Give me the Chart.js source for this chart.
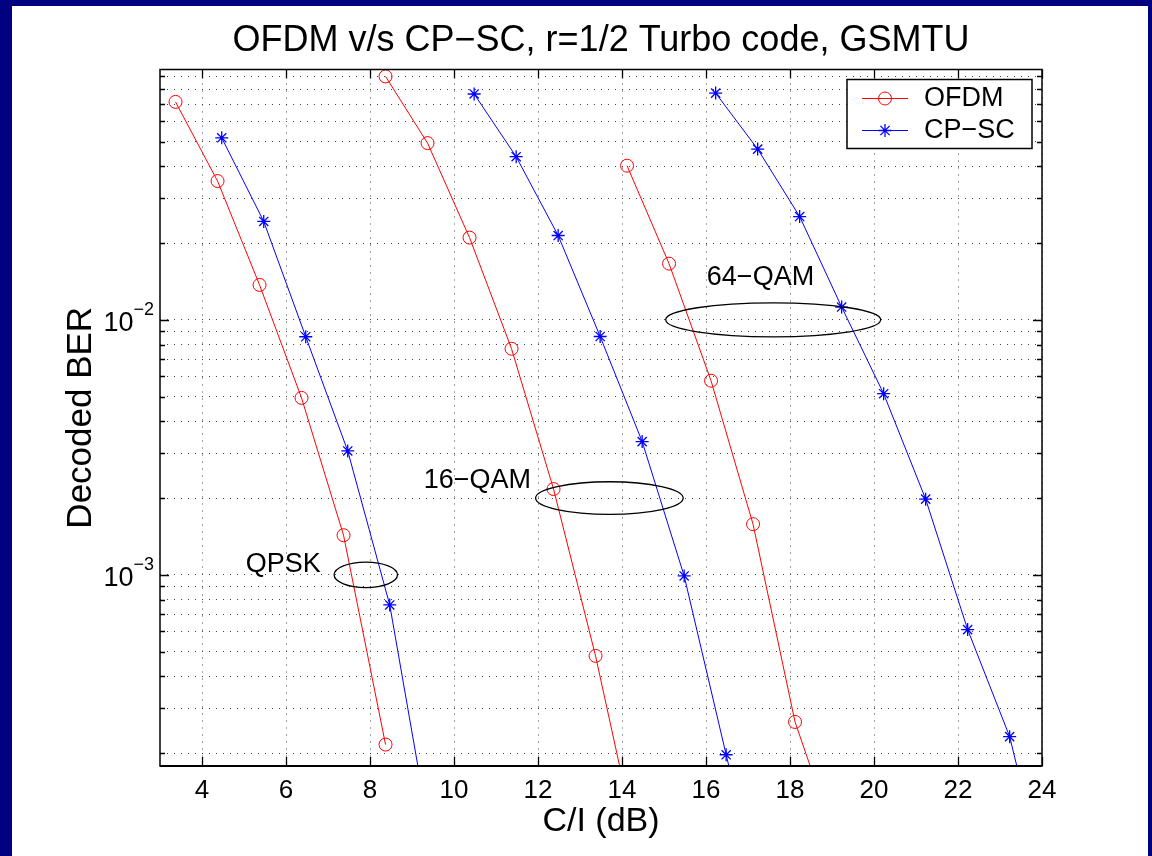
<!DOCTYPE html>
<html>
<head>
<meta charset="utf-8">
<title>OFDM v/s CP-SC</title>
<script src="https://cdn.jsdelivr.net/npm/chart.js@4.4.1/dist/chart.umd.min.js"></script>
<style>
    html, body { margin: 0; padding: 0; background: #000080; }
    #frame { position: absolute; left: 12px; top: 6px; width: 1136px; height: 850px; background: #fff; }
</style>
</head>
<body>
<div id="frame"><canvas id="berChart"></canvas></div>
<script>
// C/I (dB) and decoded BER
const ofdmQpskCI = [3.37, 4.37, 5.37, 6.37, 7.37, 8.37];
const ofdmQpskBer = [0.0715, 0.0350, 0.0137, 0.00494, 0.00143, 0.000216];
const cpscQpskCI = [4.47, 5.47, 6.47, 7.47, 8.47, 9.47];
const cpscQpskBer = [0.0517, 0.0243, 0.00858, 0.00306, 0.000762, 0.000087];

const ofdm16CI = [8.37, 9.37, 10.37, 11.37, 12.37, 13.37, 14.37];
const ofdm16Ber = [0.0900, 0.0493, 0.0210, 0.00770, 0.00217, 0.000481, 0.000085];
const cpsc16CI = [10.48, 11.48, 12.48, 13.48, 14.48, 15.48, 16.48, 17.48];
const cpsc16Ber = [0.0768, 0.0436, 0.0214, 0.00860, 0.00333, 0.00099, 0.000197, 0.00004];

const ofdm64CI = [14.12, 15.12, 16.12, 17.12, 18.12, 19.12];
const ofdm64Ber = [0.0402, 0.0166, 0.00577, 0.00158, 0.000265, 0.000088];
const cpsc64CI = [16.23, 17.23, 18.23, 19.23, 20.23, 21.23, 22.23, 23.23, 24.23];
const cpsc64Ber = [0.0774, 0.0467, 0.0254, 0.01122, 0.00513, 0.00198, 0.00061, 0.000232, 0.000049];

const xTickValues = [4, 6, 8, 10, 12, 14, 16, 18, 20, 22, 24];
const yDecades = [1e-4, 1e-3, 1e-2, 1e-1];

// modulation groups: label text, label anchor and ellipse centre (data units)
const groupNames = ['QPSK', '16\u2212QAM', '64\u2212QAM'];
const groupLabelCI = [5.04, 9.28, 16.02];
const groupLabelBer = [0.001094, 0.00234, 0.01468];
const groupEllipseCI = [7.90, 13.70, 17.60];
const groupEllipseBer = [0.001, 0.002, 0.01];

const FONT = "'Liberation Sans', Arial, Helvetica, sans-serif";
const ellipseRadii = [[31.7, 12.8], [73.8, 16.3], [107.5, 17]];

function pairs(xs, ys) {
    return xs.map((x, i) => ({x: x, y: ys[i]}));
}

function ofdmSet(xs, ys) {
    return {
        label: 'OFDM', data: pairs(xs, ys),
        borderColor: '#ff0000', borderWidth: 1,
        pointStyle: 'circle', pointRadius: 6.5, pointBorderWidth: 1,
        pointBorderColor: '#ff0000', pointBackgroundColor: 'rgba(0,0,0,0)',
        tension: 0, clip: {left: 0, right: 0, top: 8, bottom: 0}
    };
}

function cpscSet(xs, ys) {
    return {
        label: 'CP\u2212SC', data: pairs(xs, ys),
        borderColor: '#0000ff', borderWidth: 1,
        pointStyle: 'star', pointRadius: 6.5, pointBorderWidth: 1.3,
        pointBorderColor: '#0000ff', pointBackgroundColor: 'rgba(0,0,0,0)',
        tension: 0, clip: {left: 0, right: 0, top: 8, bottom: 0}
    };
}

function isDecade(v) {
    let l = Math.log10(v);
    return Math.abs(l - Math.round(l)) < 1e-9;
}

// box, inward ticks, 10^n labels, group ellipses and legend
const matlabAxes = {
    id: 'matlabAxes',
    afterDatasetsDraw(chart) {
        const {ctx, chartArea: a, scales: {x, y}} = chart;
        ctx.save();

        // ellipses + group labels
        ctx.beginPath();
        ctx.rect(a.left, a.top, a.right - a.left, a.bottom - a.top);
        ctx.clip();
        ctx.strokeStyle = '#000';
        ctx.lineWidth = 1.3;
        groupNames.forEach((name, i) => {
            let cx = x.getPixelForValue(groupEllipseCI[i]);
            let cy = y.getPixelForValue(groupEllipseBer[i]);
            ctx.beginPath();
            ctx.ellipse(cx, cy, ellipseRadii[i][0], ellipseRadii[i][1], 0, 0, 2 * Math.PI);
            ctx.stroke();
            ctx.fillStyle = '#000';
            ctx.font = '27px ' + FONT;
            ctx.textAlign = 'left';
            ctx.textBaseline = 'middle';
            ctx.fillText(name, x.getPixelForValue(groupLabelCI[i]), y.getPixelForValue(groupLabelBer[i]));
        });
        ctx.restore();
        ctx.save();

        // axes box
        ctx.strokeStyle = '#000';
        ctx.lineWidth = 1.5;
        ctx.strokeRect(a.left, a.top, a.right - a.left, a.bottom - a.top);
        ctx.lineWidth = 2.2;
        ctx.beginPath();
        ctx.moveTo(a.left, a.bottom);
        ctx.lineTo(a.right, a.bottom);
        ctx.stroke();

        // inward ticks
        ctx.lineWidth = 1.3;
        ctx.beginPath();
        x.ticks.forEach(t => {
            let px = Math.round(x.getPixelForValue(t.value)) + 0.5;
            ctx.moveTo(px, a.bottom); ctx.lineTo(px, a.bottom - 9);
            ctx.moveTo(px, a.top); ctx.lineTo(px, a.top + 9);
        });
        y.ticks.forEach(t => {
            let py = Math.round(y.getPixelForValue(t.value)) + 0.5;
            let len = isDecade(t.value) ? 9 : 5;
            ctx.moveTo(a.left, py); ctx.lineTo(a.left + len, py);
            ctx.moveTo(a.right, py); ctx.lineTo(a.right - len, py);
        });
        ctx.stroke();

        // y labels as 10^n
        ctx.fillStyle = '#000';
        ctx.textBaseline = 'alphabetic';
        y.ticks.forEach(t => {
            if (!isDecade(t.value)) return;
            let py = y.getPixelForValue(t.value);
            let exp = '\u2212' + Math.abs(Math.round(Math.log10(t.value)));
            ctx.font = '18px ' + FONT;
            let ew = ctx.measureText(exp).width;
            let right = a.left - 6;
            ctx.textAlign = 'right';
            ctx.fillText(exp, right, py - 5);
            ctx.font = '27px ' + FONT;
            ctx.fillText('10', right - ew, py + 11);
        });

        // legend
        let w = 185, h = 69;
        let lx = a.right - 10 - w, ly = a.top + 10;
        ctx.fillStyle = '#fff';
        ctx.fillRect(lx, ly, w, h);
        ctx.strokeStyle = '#000';
        ctx.lineWidth = 1.5;
        ctx.strokeRect(lx, ly, w, h);
        [0, 1].forEach((idx, row) => {
            let ds = chart.data.datasets[idx];
            let cy = ly + 19 + row * 32;
            ctx.strokeStyle = ds.borderColor;
            ctx.lineWidth = 1;
            ctx.beginPath();
            ctx.moveTo(lx + 15, cy); ctx.lineTo(lx + 61, cy);
            ctx.stroke();
            ctx.fillStyle = 'rgba(0,0,0,0)';
            ctx.lineWidth = ds.pointBorderWidth;
            Chart.helpers.drawPoint(ctx, {pointStyle: ds.pointStyle, radius: ds.pointRadius, borderWidth: ds.pointBorderWidth, rotation: 0}, lx + 38, cy);
            ctx.fillStyle = '#000';
            ctx.font = '27px ' + FONT;
            ctx.textAlign = 'left';
            ctx.textBaseline = 'middle';
            ctx.fillText(ds.label, lx + 77, cy);
        });
        ctx.restore();
    }
};

Chart.defaults.font.family = FONT;
Chart.defaults.color = '#000';

let berCanvas = document.getElementById('berChart').getContext('2d');

new Chart(berCanvas, {
    type: 'line',
    data: {
        datasets: [
            ofdmSet(ofdmQpskCI, ofdmQpskBer),
            cpscSet(cpscQpskCI, cpscQpskBer),
            ofdmSet(ofdm16CI, ofdm16Ber),
            cpscSet(cpsc16CI, cpsc16Ber),
            ofdmSet(ofdm64CI, ofdm64Ber),
            cpscSet(cpsc64CI, cpsc64Ber)
        ]
    },
    options: {
        responsive: true,
        maintainAspectRatio: false,
        animation: false,
        layout: { padding: {left: 0, right: 106, top: 0, bottom: 0} },
        plugins: {
            legend: { display: false },
            tooltip: { enabled: false },
            title: {
                display: true,
                fullSize: false,
                text: 'OFDM v/s CP\u2212SC, r=1/2 Turbo code, GSMTU',
                font: { size: 36, weight: 'normal' },
                color: '#000',
                padding: { top: 13, bottom: 7.3 }
            }
        },
        scales: {
            x: {
                type: 'linear',
                min: 3,
                max: 24,
                afterBuildTicks: s => { s.ticks = xTickValues.map(v => ({value: v})); },
                afterFit: s => { s.height = 90; },
                ticks: { font: { size: 26 }, color: '#000', padding: 9, maxRotation: 0, autoSkip: false },
                grid: { color: '#444', lineWidth: 1, drawTicks: false },
                border: { display: false, dash: [1, 6] },
                title: { display: true, text: 'C/I (dB)', font: { size: 34 }, color: '#000', padding: { top: 0, bottom: 13.6 } }
            },
            y: {
                type: 'logarithmic',
                min: 0.000178,
                max: 0.0958,
                afterBuildTicks: s => {
                    let t = [];
                    yDecades.forEach(d => {
                        for (let m = 1; m < 10; m++) {
                            let v = m * d;
                            if (v >= s.min && v <= s.max) t.push({value: v});
                        }
                    });
                    s.ticks = t;
                },
                afterFit: s => { s.width = 148; },
                ticks: { display: false },
                grid: { color: '#444', lineWidth: 1, drawTicks: false },
                border: { display: false, dash: [1, 6] },
                title: { display: true, text: 'Decoded BER', font: { size: 35 }, color: '#000', padding: { top: 48, bottom: 0 } }
            }
        }
    },
    plugins: [matlabAxes]
});
</script>
</body>
</html>
